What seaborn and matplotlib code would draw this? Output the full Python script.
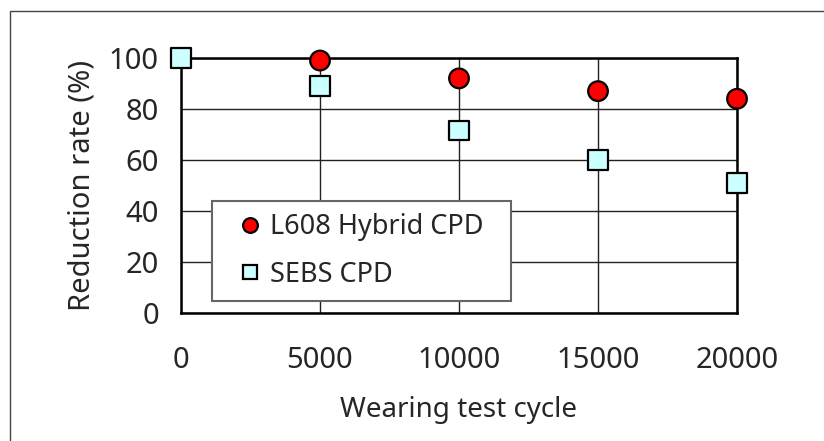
import numpy as np
import pandas as pd
import matplotlib
matplotlib.use("Agg")
import matplotlib.pyplot as plt
import seaborn as sns
from matplotlib.patches import Rectangle

cycles = [0, 5000, 10000, 15000, 20000]
hybrid_cycles = [5000, 10000, 15000, 20000]
hybrid_rate = [99, 92, 87, 84]
sebs_cycles = [0, 5000, 10000, 15000, 20000]
sebs_rate = [100, 89, 71.5, 60, 51]

df = pd.concat([
    pd.DataFrame({'cycle': hybrid_cycles, 'rate': hybrid_rate, 'sample': 'L608 Hybrid CPD'}),
    pd.DataFrame({'cycle': sebs_cycles, 'rate': sebs_rate, 'sample': 'SEBS CPD'}),
])

sns.set_style('white')
plt.rcParams['font.family'] = ['Noto Sans', 'DejaVu Sans']

fig = plt.figure(figsize=(8.24, 4.41), dpi=100)
ax = fig.add_axes([181 / 824, 1 - 313 / 441, 556 / 824, 255 / 441])

sns.scatterplot(data=df, x='cycle', y='rate', hue='sample', style='sample',
                palette={'L608 Hybrid CPD': '#ff0000', 'SEBS CPD': '#ccffff'},
                markers={'L608 Hybrid CPD': 'o', 'SEBS CPD': 's'},
                s=200, edgecolor='black', linewidth=1.6, ax=ax, zorder=5, clip_on=False)

ax.set_xlim(0, 20000)
ax.set_ylim(0, 100)
ax.set_xticks(cycles)
ax.set_yticks([0, 20, 40, 60, 80, 100])
ax.grid(True, color='#222222', linewidth=1.0)
for s in ax.spines.values():
    s.set_color('black')
    s.set_linewidth(1.8)
ax.tick_params(axis='x', labelsize=21, pad=24, length=0)
ax.tick_params(axis='y', labelsize=21, pad=16, length=0)
ax.set_xlabel('Wearing test cycle', fontsize=20, labelpad=15)
ax.set_ylabel('Reduction rate (%)', fontsize=21, labelpad=9)

# legend box stretched to the width seen in the reference
leg = ax.legend(loc='lower left', bbox_to_anchor=(0.056, 0.047, 0.538, 0.376), mode='expand',
                fontsize=19.5, frameon=True, fancybox=False, edgecolor='#666666', framealpha=1,
                handlelength=1.9, handletextpad=-0.2, labelspacing=0.72,
                borderpad=0.45, borderaxespad=0, markerscale=0.75)
leg.get_frame().set_linewidth(1.5)

fig.patches.append(Rectangle((10 / 824, -0.1), 1.0, 1 - 11 / 441 + 0.1, transform=fig.transFigure,
                             fill=False, edgecolor='#444444', linewidth=1.0))

fig.savefig('out.png', dpi=100)
